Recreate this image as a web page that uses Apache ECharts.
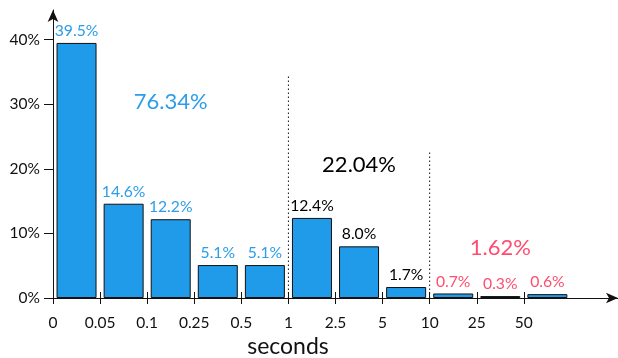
<!DOCTYPE html>
<html>
<head>
<meta charset="utf-8">
<script src="https://cdn.jsdelivr.net/npm/echarts@6/dist/echarts.min.js"></script>
<style>html,body{margin:0;padding:0;background:#fff}#c{width:618px;height:358px}</style>
</head>
<body>
<div id="c"></div>
<script>
// Bin boundaries (tick labels) and bar values (%)
const binEdges = ['0', '0.05', '0.1', '0.25', '0.5', '1', '2.5', '5', '10', '25', '50'];
const barValues = [39.5, 14.6, 12.2, 5.1, 5.1, 12.4, 8.0, 1.7, 0.7, 0.3, 0.6];
const barGroup = [0, 0, 0, 0, 0, 1, 1, 1, 2, 2, 2];
const groupTotals = ['76.34%', '22.04%', '1.62%'];
const groupLabelAnchor = [[2.5, 30.4], [6.5, 20.6], [9.5, 7.8]];
const dividers = [[5, 34.3], [8, 22.7]];
const yTicks = [0, 10, 20, 30, 40];

const groupColors = ['#2b9de9', '#000000', '#ff4d6f'];
const FONT = 'Lato';

const barData = barValues.map((v, i) => ({
  value: [i + 0.5, v],
  label: { color: groupColors[barGroup[i]] }
}));

const series = [{
  type: 'bar',
  xAxisIndex: 0,
  data: barData,
  barWidth: 40,
  itemStyle: { color: '#1f9bea', borderColor: '#111', borderWidth: 1 },
  label: {
    show: true, position: 'top', distance: 4,
    fontFamily: FONT, fontSize: 15.7,
    formatter: p => p.value[1].toFixed(1) + '%'
  },
  z: 3
}];

dividers.forEach(d => {
  series.push({
    type: 'line', xAxisIndex: 0,
    data: [[d[0], 0], [d[0], d[1]]],
    symbol: 'none', silent: true,
    lineStyle: { color: '#111', width: 1, type: [1.5, 2.5] },
    z: 1
  });
});

series.push({
  type: 'scatter', xAxisIndex: 0,
  symbolSize: 0, silent: true,
  itemStyle: { opacity: 1 },
  data: groupLabelAnchor.map((a, i) => ({
    value: a,
    label: { formatter: groupTotals[i], color: groupColors[i] }
  })),
  label: { show: true, position: 'inside', fontFamily: FONT, fontSize: 22 }
});

const xCustom = binEdges.map((_, i) => i);

const option = {
  animation: false,
  grid: { left: 53, right: 0, top: 10, bottom: 60, containLabel: false },
  xAxis: [{
    type: 'value', min: 0, max: 12,
    splitLine: { show: false },
    axisLine: { show: true, lineStyle: { color: '#111', width: 1 }, symbol: ['none', 'arrow'], symbolSize: [8, 12] },
    axisTick: { show: true, length: 6, lineStyle: { color: '#111' }, customValues: xCustom },
    axisLabel: {
      show: true, margin: 17, color: '#111', fontFamily: FONT, fontSize: 15.5,
      customValues: xCustom,
      formatter: v => binEdges[Math.round(v)] !== undefined ? binEdges[Math.round(v)] : ''
    }
  }, {
    type: 'value', min: 0, max: 12, position: 'bottom',
    splitLine: { show: false },
    axisLine: { show: false },
    axisTick: { show: true, inside: true, length: 6, lineStyle: { color: '#111' }, customValues: xCustom },
    axisLabel: { show: false }
  }],
  yAxis: {
    type: 'value', min: 0, max: 44.6,
    splitLine: { show: false },
    axisLine: { show: true, lineStyle: { color: '#111', width: 1 }, symbol: ['none', 'arrow'], symbolSize: [8, 12] },
    axisTick: { show: true, length: 9, lineStyle: { color: '#111' }, customValues: yTicks },
    axisLabel: {
      margin: 13, color: '#111', fontFamily: FONT, fontSize: 15.5,
      customValues: yTicks, formatter: v => v + '%'
    }
  },
  graphic: [{
    type: 'text', x: 288, y: 347,
    style: { text: 'seconds', fontFamily: FONT, fontSize: 23, fill: '#111', textAlign: 'center', textVerticalAlign: 'middle' }
  }],
  series: series
};

echarts.init(document.getElementById('c'), null, { renderer: 'canvas' }).setOption(option);
</script>
</body>
</html>
